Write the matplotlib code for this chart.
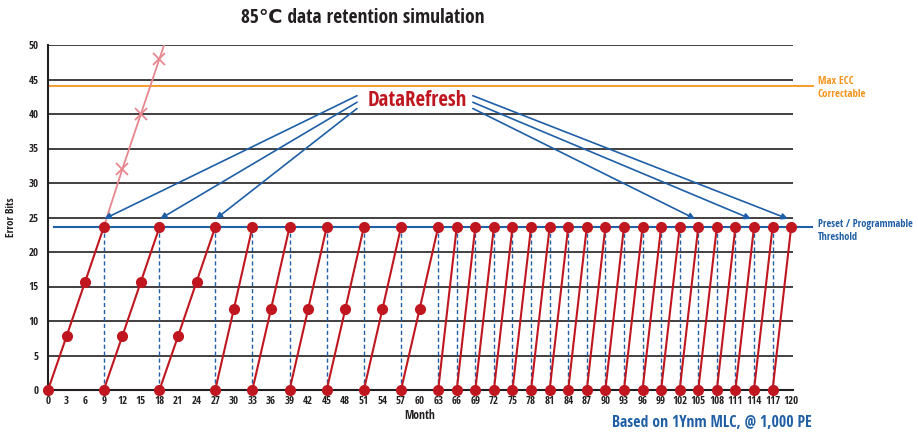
import matplotlib.pyplot as plt

plt.rcParams['font.family'] = ['Open Sans Condensed', 'Open Sans', 'DejaVu Sans']
plt.rcParams['font.weight'] = 'bold'

# refresh cycles: start month of each cycle and the error bits read every 3 months
slow_starts = [0, 9, 18]
slow_errors = [0, 7.8, 15.7, 23.6]
mid_starts = [27, 33, 39, 45, 51, 57]
mid_errors = [0, 11.7, 23.6]
fast_starts = [63, 66, 69, 72, 75, 78, 81, 84, 87, 90, 93, 96, 99, 102,
               105, 108, 111, 114, 117]
fast_errors = [0, 23.6]

# without refresh
norefresh_months = [9, 12, 15, 18, 19]
norefresh_errors = [23.6, 32, 40, 48, 50.7]

threshold = 23.6
max_ecc = 44
arrow_targets_left = [9, 18, 27]
arrow_targets_right = [105, 114, 120]
month_ticks = list(range(0, 121, 3))
error_ticks = list(range(0, 51, 5))

red = '#c0161f'
blue = '#1f5fa6'
orange = '#f7941d'
pink = '#e8868f'
dark = '#231f20'

fig = plt.figure(figsize=(9.18, 4.33), dpi=100)
ax = fig.add_axes([48 / 918, 43 / 433, 745 / 918, 345 / 433])
ax.set_xlim(0, 120.3)
ax.set_ylim(0, 50)

for y in error_ticks[1:]:
    ax.plot([0, 120.3], [y, y], color=dark, lw=1.2, zorder=1)

# refresh markers (dashed verticals)
refresh_months = slow_starts[1:] + mid_starts + fast_starts
for m in refresh_months:
    ax.plot([m, m], [0, threshold], color=blue, lw=1, ls=(0, (3, 2)), zorder=2)

ax.plot([1, 123.4], [threshold, threshold], color=blue, lw=1.5, zorder=2,
        clip_on=False)
ax.plot([0, 123.6], [max_ecc, max_ecc], color=orange, lw=1.3, zorder=2,
        clip_on=False)

ax.plot(norefresh_months, norefresh_errors, color=pink, lw=1.3, zorder=3)
ax.plot(norefresh_months[1:4], norefresh_errors[1:4], ls='none', marker='x',
        ms=8, mew=1.3, color=pink, zorder=3)


def draw_cycles(starts, errors, step):
    for s in starts:
        xs = [s + step * i for i in range(len(errors))]
        ax.plot(xs, errors, color=red, lw=1.5, marker='o', ms=7, zorder=4,
                clip_on=False)


draw_cycles(slow_starts, slow_errors, 3)
draw_cycles(mid_starts, mid_errors, 3)
draw_cycles(fast_starts, fast_errors, 3)

# DataRefresh arrows
tail_ys = [42.65, 41.7, 40.8]
for t, ty in zip(arrow_targets_left, tail_ys):
    ax.annotate('', xy=(t + 0.1, 24.8), xytext=(49.9, ty),
                arrowprops=dict(arrowstyle='-|>', color=blue, lw=1.2,
                                mutation_scale=9, shrinkA=0, shrinkB=0))
for t, ty in zip(arrow_targets_right[::-1], tail_ys):
    ax.annotate('', xy=(t - 0.5, 24.8), xytext=(68.6, ty),
                arrowprops=dict(arrowstyle='-|>', color=blue, lw=1.2,
                                mutation_scale=9, shrinkA=0, shrinkB=0))
ax.text(59.6, 42.0, 'DataRefresh', color=red, fontsize=15, fontweight='bold',
        ha='center', va='center', zorder=5)

ax.set_xticks(month_ticks)
ax.set_yticks(error_ticks)
ax.tick_params(axis='both', length=0, labelsize=7.8, colors=dark)
ax.tick_params(axis='x', pad=4)
ax.tick_params(axis='y', pad=7)
for lab in ax.get_xticklabels() + ax.get_yticklabels():
    lab.set_fontweight('bold')
for s in ['top', 'right']:
    ax.spines[s].set_visible(False)
ax.spines['left'].set_color(dark)
ax.spines['left'].set_linewidth(1.5)
ax.spines['bottom'].set_color(dark)
ax.spines['bottom'].set_linewidth(1.5)

ax.set_ylabel('Error Bits', fontsize=7.8, fontweight='bold', color=dark, labelpad=8)
ax.set_xlabel('Month', fontsize=8.5, fontweight='bold', color=dark)
ax.xaxis.set_label_coords((420 - 48) / 745, -0.055)

fig.text(363 / 918, 1 - 18 / 433, '85\u2103 data retention simulation',
         fontsize=14, fontweight='bold', color=dark, ha='center', va='center')
fig.text(818 / 918, 1 - 88 / 433, 'Max ECC\nCorrectable', fontsize=7.8,
         fontweight='bold', color=orange, ha='left', va='center', linespacing=1.2)
fig.text(818 / 918, 1 - 231 / 433, 'Preset / Programmable\nThreshold',
         fontsize=7.5, fontweight='bold', color=blue, ha='left', va='center',
         linespacing=1.2)
fig.text(712 / 918, 1 - 423 / 433, 'Based on 1Ynm MLC, @ 1,000 PE',
         fontsize=11.3, fontweight='bold', color=blue, ha='center', va='center')

fig.savefig('out.png', dpi=100)
